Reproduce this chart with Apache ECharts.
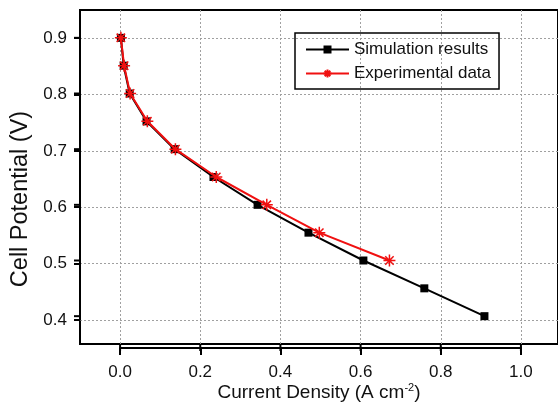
<!DOCTYPE html>
<html><head><meta charset="utf-8">
<script src="https://cdn.jsdelivr.net/npm/echarts@6/dist/echarts.min.js"></script>
<style>html,body{margin:0;padding:0;background:#fff}#c{width:558px;height:407px}</style>
</head><body><div id="c"></div>
<script>
const simX = [0.002, 0.009, 0.024, 0.066, 0.136, 0.233, 0.343, 0.470, 0.607, 0.759, 0.909];
const simY = [0.90, 0.85, 0.80, 0.75, 0.70, 0.65, 0.60, 0.55, 0.50, 0.45, 0.40];
const expX = [0.002, 0.010, 0.025, 0.068, 0.138, 0.240, 0.366, 0.497, 0.672];
const expY = [0.90, 0.85, 0.80, 0.75, 0.70, 0.65, 0.60, 0.55, 0.50];
const xTicks = [0.0, 0.2, 0.4, 0.6, 0.8, 1.0];
const yTicks = [0.4, 0.5, 0.6, 0.7, 0.8, 0.9];

const font = 'Liberation Sans, Arial, sans-serif';
const star = 'path://M0,5L10,5M5,0L5,10M1.5,1.5L8.5,8.5M8.5,1.5L1.5,8.5';
const gridLine = {show: true, lineStyle: {color: '#a0a0a0', type: [2, 2], width: 1}};
const frameLine = {show: true, lineStyle: {color: '#000', width: 2}};

// main plot frame (right edge of the original frame lies just outside the picture)
const L = 80, T = 10, R = 0, B = 59, W = 558, H = 407;
const xMin = -0.1, xMax = 1.0925, yMin = 0.35, yMax = 0.95;
const pw = W - L - R, ph = H - T - B;
const xPx = v => (v - xMin) / (xMax - xMin) * pw;
const yPx = v => (yMax - v) / (yMax - yMin) * ph;
const x0 = xTicks[0], x1 = xTicks[xTicks.length - 1];
const y0 = yTicks[0], y1 = yTicks[yTicks.length - 1];

// helper axes that never cross zero (so no on-zero shifting)
const hidden = {type: 'value', show: false, min: 1, max: 2};
const tickStyle = {stroke: '#000', lineWidth: 2};
const chart = echarts.init(document.getElementById('c'));
chart.setOption({
  animation: false,
  grid: [
    {left: L, top: T, right: R, bottom: B, containLabel: false,
     show: true, borderColor: '#000', borderWidth: 2},
    {left: L + xPx(x0), right: R + (pw - xPx(x1)), top: T, bottom: B, containLabel: false},
    {left: L, right: R, top: T + yPx(y1), bottom: B + (ph - yPx(y0)), containLabel: false}
  ],
  legend: {
    top: 33, left: 295, orient: 'vertical', itemGap: 7,
    itemWidth: 43, itemHeight: 10,
    borderColor: '#000', borderWidth: 1.5, padding: [8, 8, 7, 10],
    textStyle: {fontFamily: font, fontSize: 17, color: '#111'},
    data: ['Simulation results', 'Experimental data']
  },
  xAxis: [{
    gridIndex: 0, type: 'value', min: xMin, max: xMax,
    axisLine: {show: false}, axisTick: {show: false}, axisLabel: {show: false}, splitLine: {show: false},
    name: '{a|Current Density (A cm}{s|-2}{a|)}', nameLocation: 'middle', nameGap: 38,
    nameTextStyle: {rich: {a: {fontFamily: font, fontSize: 19, color: '#111'},
      s: {fontFamily: font, fontSize: 11, color: '#111', verticalAlign: 'top', padding: [0, 0, 10, 0]}}}
  }, {
    gridIndex: 1, type: 'value', min: x0, max: x1, interval: xTicks[1] - xTicks[0], position: 'bottom',
    axisLine: frameLine,
    axisTick: {show: true, inside: false, length: 7, lineStyle: {width: 2}},
    axisLabel: {fontFamily: font, fontSize: 17, color: '#111', margin: 16, formatter: v => v.toFixed(1)},
    splitLine: gridLine
  }, Object.assign({gridIndex: 2}, hidden)],
  yAxis: [{
    gridIndex: 0, type: 'value', min: yMin, max: yMax,
    axisLine: {show: false}, axisTick: {show: false}, axisLabel: {show: false}, splitLine: {show: false},
    name: 'Cell Potential (V)', nameLocation: 'middle', nameGap: 47,
    nameTextStyle: {fontFamily: font, fontSize: 23.5, color: '#111', padding: [0, 44, 0, 0]}
  }, Object.assign({gridIndex: 1}, hidden), {
    gridIndex: 2, type: 'value', min: y0, max: y1, interval: yTicks[1] - yTicks[0], position: 'left',
    axisLine: frameLine,
    axisTick: {show: true, inside: false, length: 6, lineStyle: {width: 2}},
    axisLabel: {fontFamily: font, fontSize: 17, color: '#111', margin: 13, formatter: v => v.toFixed(1)},
    splitLine: gridLine
  }],
  series: [
    {name: 'Simulation results', type: 'line', xAxisIndex: 0, yAxisIndex: 0,
     data: simX.map((x, i) => [x, simY[i]]),
     symbol: 'rect', symbolSize: 8, showAllSymbol: true, z: 3,
     lineStyle: {color: '#000', width: 2}, itemStyle: {color: '#000'}},
    {name: 'Experimental data', type: 'line', xAxisIndex: 0, yAxisIndex: 0,
     data: expX.map((x, i) => [x, expY[i]]),
     symbol: star, symbolSize: 12, showAllSymbol: true, z: 4,
     lineStyle: {color: '#f01010', width: 2},
     itemStyle: {color: '#f01010', borderColor: '#f01010', borderWidth: 1.5}},
    // outward major tick marks, placed through the main axes' scales
    {name: 'xticks', type: 'custom', xAxisIndex: 0, yAxisIndex: 0, clip: false, silent: true, z: 6,
     data: xTicks.map(v => [v, yMin]),
     renderItem: (params, api) => {
       const p = api.coord([api.value(0), api.value(1)]);
       return {type: 'line', shape: {x1: p[0], y1: p[1], x2: p[0], y2: p[1] + 7}, style: tickStyle};
     }},
    {name: 'yticks', type: 'custom', xAxisIndex: 0, yAxisIndex: 0, clip: false, silent: true, z: 6,
     data: yTicks.map(v => [xMin, v]),
     renderItem: (params, api) => {
       const p = api.coord([api.value(0), api.value(1)]);
       return {type: 'line', shape: {x1: p[0] - 6, y1: p[1], x2: p[0], y2: p[1]}, style: tickStyle};
     }}
  ]
});
</script></body></html>
